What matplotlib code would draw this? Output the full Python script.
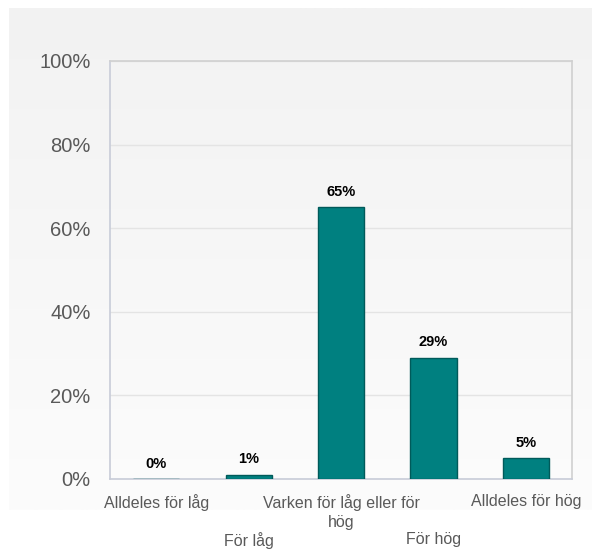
import numpy as np
import matplotlib.pyplot as plt
import matplotlib.transforms as mtransforms

categories = ['Alldeles för låg', 'För låg', 'Varken för låg eller för\nhög', 'För hög', 'Alldeles för hög']
values = [0, 1, 65, 29, 5]
y_ticks = [0, 20, 40, 60, 80, 100]

plt.rcParams['font.family'] = ['Liberation Sans', 'DejaVu Sans']

fig = plt.figure(figsize=(5.92, 5.5), dpi=100)
fig.patch.set_facecolor('white')

# light gray gradient panel behind the chart
bg = fig.add_axes([9 / 592, 40 / 550, 583 / 592, 502 / 550], zorder=0)
grad = np.linspace(242, 252, 200).reshape(-1, 1) / 255.0
bg.imshow(np.dstack([grad, grad, grad]), aspect='auto', extent=[0, 1, 0, 1])
bg.axis('off')

ax = fig.add_axes([110 / 592, 71 / 550, 462 / 592, 418 / 550], zorder=1)
ax.set_facecolor('none')

x = np.arange(len(categories))
ax.bar(x, values, width=0.5, color='#008080', edgecolor='#005a5a', linewidth=1, zorder=3)

for xi, v in zip(x, values):
    ax.text(xi, v + 2, f'{v}%', ha='center', va='bottom', fontsize=10.5, fontweight='bold', color='black')

ax.set_xlim(-0.5, len(categories) - 0.5)
ax.set_ylim(0, 100)
ax.set_yticks(y_ticks)
ax.set_yticklabels([f'{t}%' for t in y_ticks], fontsize=14.5, color='#595959')
ax.yaxis.grid(True, color='#e4e4e4', linewidth=1, zorder=0)

ax.set_xticks(x)
ax.set_xticklabels(categories, fontsize=11.5, color='#595959', linespacing=1.33)
ax.tick_params(axis='y', length=0, pad=14)
ax.tick_params(axis='x', length=0, pad=11)

# stagger every other category label one row lower
shift = mtransforms.ScaledTranslation(0, -0.38, fig.dpi_scale_trans)
for i, lab in enumerate(ax.get_xticklabels()):
    if i % 2 == 1:
        lab.set_transform(lab.get_transform() + shift)

for side in ['top', 'right']:
    ax.spines[side].set_color('#d0d0d0')
for side in ['left', 'bottom']:
    ax.spines[side].set_color('#c8ccd8')
for s in ax.spines.values():
    s.set_linewidth(1.2)

fig.savefig('out.png', dpi=100)
